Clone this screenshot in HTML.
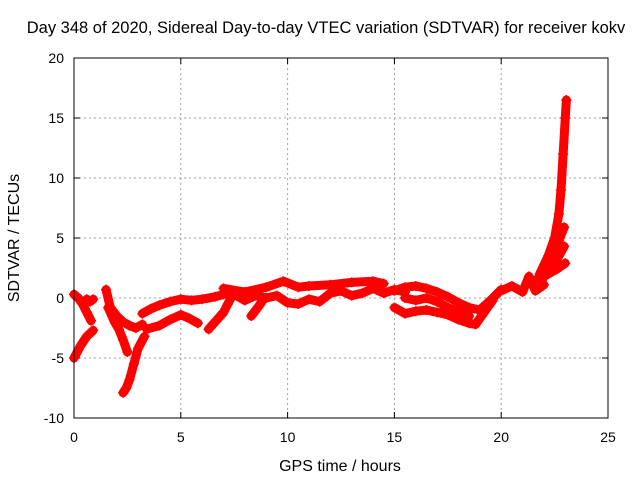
<!DOCTYPE html>
<html><head><meta charset="utf-8"><style>
body{margin:0;background:#fff}
svg{display:block;font-family:"Liberation Sans",sans-serif;font-size:14px}
</style></head><body>
<svg id="chart" width="640" height="480">
<text x="326" y="33" text-anchor="middle" font-size="16.5">Day 348 of 2020, Sidereal Day-to-day VTEC variation (SDTVAR) for receiver kokv</text>
<g id="grid"></g>
<g id="ticks"></g>
<g id="marks"></g>
<rect x="74" y="58" width="534" height="360" fill="none" stroke="#000" stroke-width="1"/>
<text x="340" y="471" text-anchor="middle" font-size="16">GPS time / hours</text>
<text transform="translate(19,238) rotate(-90)" text-anchor="middle" font-size="16">SDTVAR / TECUs</text>
</svg>
<script>
const xTicks=[0,5,10,15,20,25];
const yTicks=[-10,-5,0,5,10,15,20];
const tracks=[
 {x:[0,0.2,0.4,0.6,0.8],y:[0.3,0,-0.5,-1.2,-1.9]},
 {x:[0.6,0.75,0.9],y:[-0.1,-0.3,-0.1]},
 {x:[0,0.3,0.6,0.9],y:[-5,-4,-3.2,-2.7]},
 {x:[1.5,1.7,2.0,2.3,2.6,2.9,3.2],y:[0.7,-0.8,-1.5,-2,-2.3,-2.5,-2.2]},
 {x:[1.6,1.9,2.1,2.3,2.5],y:[-0.8,-2,-2.6,-3.5,-4.5]},
 {x:[3.3,3.0,2.8,2.6,2.45,2.3],y:[-3.2,-4.2,-5.5,-6.8,-7.5,-7.9]},
 {x:[3.2,3.6,4.0,4.5,5.0,5.5,6.0,6.6,7.0,7.5],y:[-1.3,-0.9,-0.6,-0.3,-0.1,-0.2,-0.1,0.1,0.3,0.5]},
 {x:[3.4,4.0,4.5,5.0,5.4,5.8],y:[-2.6,-2.3,-1.8,-1.4,-1.7,-2.1]},
 {x:[6.3,6.7,7.0,7.2,7.5],y:[-2.6,-1.8,-1.2,-0.5,0.5]},
 {x:[7.5,8,8.5,9,9.5,10,10.5,11,11.5,12,12.5,13,13.5,14,14.5,15,15.5],y:[0.3,-0.2,0.2,0,0.2,-0.4,-0.5,-0.1,-0.3,0.4,0.6,0.2,0.4,0.8,0.4,0.7,0.5]},
 {x:[7,8,9,9.8,10.5,11,12,13,14,14.5],y:[0.8,0.5,0.9,1.4,0.9,1,1.1,1.3,1.4,1.2]},
 {x:[8.3,8.6,8.8],y:[-1.5,-0.8,-0.3]},
 {x:[15,15.5,16,16.5,17,17.5,18,18.5,19,19.5,20],y:[0.6,0.9,1,0.8,0.5,0.1,-0.4,-0.8,-1,-0.2,0.7]},
 {x:[15.5,16,16.5,17,17.5,18,18.5],y:[0,-0.2,0,-0.3,-0.8,-1.2,-1.5]},
 {x:[15,15.5,16,16.5,17,17.5,18,18.5,18.8,19.2,19.6],y:[-0.8,-1.3,-1.1,-1,-1.2,-1.4,-1.8,-2.1,-2.2,-1.2,-0.2]},
 {x:[20,20.5,21,21.3,21.6,22],y:[0.6,1,0.5,1.8,0.6,1.1]},
 {x:[21.8,22.2,22.5,22.7,22.8,22.9,23.0,23.05],y:[2,3.5,5,7,9,12,15,16.5]},
 {x:[22,22.4,22.7,22.95],y:[1.8,3.2,4.8,5.9]},
 {x:[21.9,22.3,22.7,22.95],y:[1.5,2.5,3.5,4.3]},
 {x:[21.7,22.2,22.6,23.0],y:[1.6,2.0,2.4,2.9]}
];
const X0=74,X1=608,Y0=418,Y1=58;
const sx=v=>X0+(v-0)/25*(X1-X0);
const sy=v=>Y0-(v+10)/30*(Y0-Y1);
const NS="http://www.w3.org/2000/svg";
const grid=document.getElementById('grid'),ticks=document.getElementById('ticks'),marks=document.getElementById('marks');
function mk(tag,attrs,parent){const e=document.createElementNS(NS,tag);for(const k in attrs)e.setAttribute(k,attrs[k]);parent.appendChild(e);return e;}
xTicks.forEach(t=>{
 const x=sx(t);
 if(t>0&&t<25){const l=mk('line',{x1:x,x2:x,y1:Y1,y2:Y0,stroke:'#a0a0a0','stroke-dasharray':'2,3'},grid);
 
 }
 mk('line',{x1:x,x2:x,y1:Y0,y2:Y0-6,stroke:'#000'},grid);
 mk('line',{x1:x,x2:x,y1:Y1,y2:Y1+6,stroke:'#000'},grid);
 const tx=mk('text',{x:x,y:Y0+24,'text-anchor':'middle'},ticks);tx.textContent=t;
 
 
});
yTicks.forEach(t=>{
 const y=sy(t);
 if(t>-10&&t<20){const l=mk('line',{x1:X0,x2:X1,y1:y,y2:y,stroke:'#a0a0a0','stroke-dasharray':'2,3'},grid);
 
 }
 mk('line',{x1:X0,x2:X0+6,y1:y,y2:y,stroke:'#000'},grid);
 mk('line',{x1:X1,x2:X1-6,y1:y,y2:y,stroke:'#000'},grid);
 const tx=mk('text',{x:X0-10,y:y+5,'text-anchor':'end'},ticks);tx.textContent=t;
 
 
});
tracks.forEach(tr=>{
 const pts=tr.x.map((v,i)=>sx(v)+','+sy(tr.y[i])).join(' ');
 const pl=mk('polyline',{points:pts,fill:'none',stroke:'#f00','stroke-width':9,'stroke-linejoin':'round','stroke-linecap':'round'},marks);
 
 
 tr.x.forEach((v,i)=>{
  const cx=sx(v),cy=sy(tr.y[i]);
  const p=mk('path',{d:`M${cx-5},${cy}h10M${cx},${cy-5}v10`,stroke:'#f00','stroke-width':1.5},marks);
  
  
 });
});
</script>
</body></html>
